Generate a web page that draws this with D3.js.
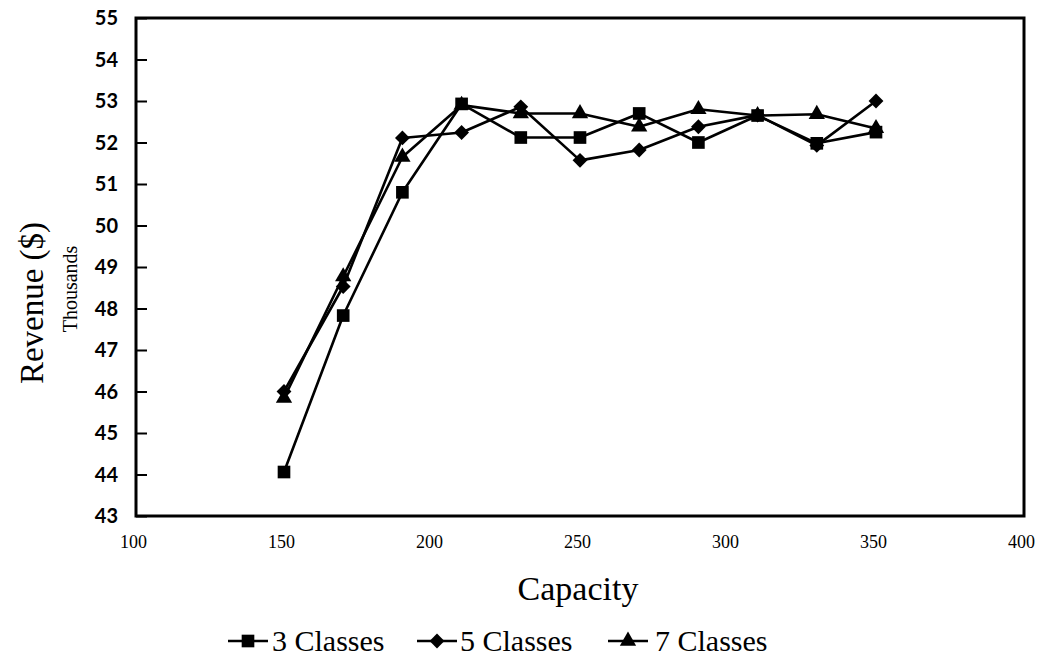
<!DOCTYPE html>
<html>
<head>
<meta charset="utf-8">
<script src="https://cdn.jsdelivr.net/npm/d3@7"></script>
<style>
  html, body { margin: 0; padding: 0; background: #fff; }
  svg { display: block; }
</style>
</head>
<body>
<svg id="chart" width="1047" height="662"></svg>
<script>
// Capacity values on the x axis
const capacity = [150, 170, 190, 210, 230, 250, 270, 290, 310, 330, 350];

// Revenue (thousands of $) for each number of fare classes
const classes3 = [44.06, 47.83, 50.80, 52.93, 52.12, 52.12, 52.70, 52.00, 52.65, 51.98, 52.25];
const classes5 = [46.00, 48.53, 52.11, 52.24, 52.86, 51.57, 51.82, 52.38, 52.66, 51.93, 53.00];
const classes7 = [45.84, 48.77, 51.65, 52.90, 52.70, 52.70, 52.38, 52.80, 52.65, 52.68, 52.34];

const seriesNames = ["3 Classes", "5 Classes", "7 Classes"];
const seriesSymbols = ["square", "diamond", "triangle"];

const xTicks = [100, 150, 200, 250, 300, 350, 400];
const yTicks = [43, 44, 45, 46, 47, 48, 49, 50, 51, 52, 53, 54, 55];

const series = [classes3, classes5, classes7].map((vals, i) => ({
  name: seriesNames[i],
  symbol: seriesSymbols[i],
  points: vals.map((v, j) => ({ x: capacity[j], y: v }))
}));

const svg = d3.select("#chart");
const plot = { left: 136, right: 1024, top: 18, bottom: 516 };

const x = d3.scaleLinear().domain([100, 400]).range([plot.left, plot.right]);
const y = d3.scaleLinear().domain([43, 55]).range([plot.bottom, plot.top]);

const serif = "'Liberation Serif', 'Times New Roman', serif";
const tickFont = "Lato, 'Noto Sans', sans-serif";

// Y axis: numbers at left, short ticks pointing into the plot
const yAxis = d3.axisRight(y).tickValues(yTicks).tickSize(11).tickFormat("");
svg.append("g")
  .attr("transform", `translate(${plot.left},0)`)
  .call(yAxis)
  .call(g => g.select(".domain").remove())
  .call(g => g.selectAll(".tick line").attr("stroke", "#000").attr("stroke-width", 2));

svg.append("g").selectAll("text")
  .data(yTicks)
  .join("text")
  .attr("x", 118)
  .attr("y", d => y(d))
  .attr("dy", "0.36em")
  .attr("text-anchor", "end")
  .attr("font-family", tickFont)
  .attr("font-weight", "bold")
  .attr("font-size", 20)
  .attr("fill", "#000")
  .text(d => d);

// X axis labels
const xAxis = d3.axisBottom(x).tickValues(xTicks).tickSize(0).tickPadding(19);
svg.append("g")
  .attr("transform", `translate(-3,${plot.bottom})`)
  .call(xAxis)
  .call(g => g.select(".domain").remove())
  .call(g => g.selectAll(".tick text")
    .attr("font-family", serif)
    .attr("font-size", 18)
    .attr("fill", "#000"));

// Plot frame
svg.append("rect")
  .attr("x", plot.left)
  .attr("y", plot.top)
  .attr("width", plot.right - plot.left)
  .attr("height", plot.bottom - plot.top)
  .attr("fill", "none")
  .attr("stroke", "#000")
  .attr("stroke-width", 3);

// Marker shapes
const markerPath = {
  square: d3.symbol().type(d3.symbolSquare).size(160)(),
  diamond: d3.symbol().type(d3.symbolSquare).size(110)(),
  triangle: d3.symbol().type(d3.symbolTriangle).size(115)()
};
const markerRotate = { square: 0, diamond: 45, triangle: 0 };

// Series lines
const line = d3.line().x(d => x(d.x)).y(d => y(d.y));
const g = svg.append("g");
series.forEach(s => {
  g.append("path")
    .datum(s.points)
    .attr("d", line)
    .attr("fill", "none")
    .attr("stroke", "#000")
    .attr("stroke-width", 2.6)
    .attr("stroke-linejoin", "round");
});
series.forEach(s => {
  g.selectAll(null)
    .data(s.points)
    .join("path")
    .attr("transform", d => `translate(${x(d.x)},${y(d.y)}) rotate(${markerRotate[s.symbol]})`)
    .attr("d", markerPath[s.symbol])
    .attr("fill", "#000");
});

// Axis titles
svg.append("text")
  .attr("transform", "translate(43,303) rotate(-90)")
  .attr("text-anchor", "middle")
  .attr("font-family", serif)
  .attr("font-size", 33)
  .text("Revenue ($)");

svg.append("text")
  .attr("transform", "translate(77,289) rotate(-90)")
  .attr("text-anchor", "middle")
  .attr("font-family", serif)
  .attr("font-size", 20)
  .text("Thousands");

svg.append("text")
  .attr("x", 578)
  .attr("y", 600)
  .attr("text-anchor", "middle")
  .attr("font-family", serif)
  .attr("font-size", 34)
  .text("Capacity");

// Legend
const legendItems = [
  { lx: 228, tx: 272 },
  { lx: 417, tx: 460 },
  { lx: 608, tx: 655 }
];
const legendY = 641;
const lg = svg.append("g");
series.forEach((s, i) => {
  const it = legendItems[i];
  lg.append("line")
    .attr("x1", it.lx).attr("x2", it.lx + 40)
    .attr("y1", legendY).attr("y2", legendY)
    .attr("stroke", "#000").attr("stroke-width", 2.6);
  lg.append("path")
    .attr("transform", `translate(${it.lx + 20},${legendY}) rotate(${markerRotate[s.symbol]})`)
    .attr("d", markerPath[s.symbol])
    .attr("fill", "#000");
  lg.append("text")
    .attr("x", it.tx)
    .attr("y", legendY + 10)
    .attr("font-family", serif)
    .attr("font-size", 30)
    .text(s.name);
});
</script>
</body>
</html>
